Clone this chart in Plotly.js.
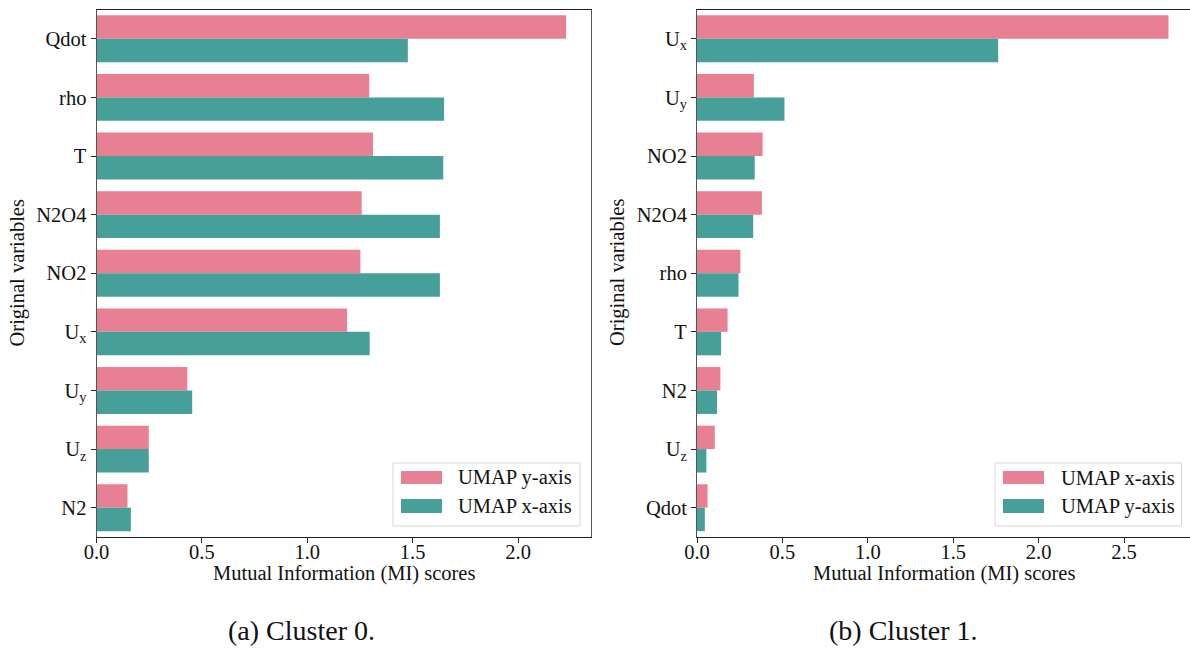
<!DOCTYPE html>
<html>
<head>
<meta charset="utf-8">
<script src="https://cdn.plot.ly/plotly-3.0.1.min.js"></script>
<style>html,body{margin:0;padding:0;background:#fff;}</style>
</head>
<body>
<div id="chart" style="width:1190px;height:648px;"></div>
<script>
// Mutual information between each original variable and the UMAP axes, per cluster
const cluster0Vars = ['Qdot', 'rho', 'T', 'N2O4', 'NO2', 'U<sub>x</sub>', 'U<sub>y</sub>', 'U<sub>z</sub>', 'N2'];
const cluster0UmapY = [2.228, 1.294, 1.312, 1.258, 1.252, 1.189, 0.431, 0.248, 0.147];
const cluster0UmapX = [1.477, 1.649, 1.645, 1.629, 1.629, 1.296, 0.454, 0.248, 0.163];

const cluster1Vars = ['U<sub>x</sub>', 'U<sub>y</sub>', 'NO2', 'N2O4', 'rho', 'T', 'N2', 'U<sub>z</sub>', 'Qdot'];
const cluster1UmapX = [2.760, 0.333, 0.384, 0.380, 0.254, 0.179, 0.137, 0.104, 0.062];
const cluster1UmapY = [1.763, 0.512, 0.338, 0.329, 0.243, 0.141, 0.117, 0.055, 0.046];

const legend0Names = ['UMAP y-axis', 'UMAP x-axis'];
const legend1Names = ['UMAP x-axis', 'UMAP y-axis'];
const captions = ['(a) Cluster 0.', '(b) Cluster 1.'];
const xTitle = 'Mutual Information (MI) scores';
const yTitle = 'Original variables';
const xTickVals0 = [0, 0.5, 1, 1.5, 2];
const xTickVals1 = [0, 0.5, 1, 1.5, 2, 2.5];

const PINK = 'rgb(231,128,146)';
const TEAL = 'rgb(70,159,153)';
const W = 1190, H = 648;
const FONT = 'Liberation Serif';
const FS = 20.5;
const INK = '#222';

// pixel -> paper helpers for layout placement
const px = v => v / W;
const py = v => 1 - v / H;

function bar(x, y, color, xa, ya) {
  return {
    type: 'bar', orientation: 'h', x: x, y: y,
    xaxis: xa, yaxis: ya,
    marker: {color: color, line: {width: 0}},
    showlegend: false, hoverinfo: 'x+y'
  };
}

const data = [
  bar(cluster0UmapY, cluster0Vars, PINK, 'x', 'y'),
  bar(cluster0UmapX, cluster0Vars, TEAL, 'x', 'y'),
  bar(cluster1UmapX, cluster1Vars, PINK, 'x2', 'y2'),
  bar(cluster1UmapY, cluster1Vars, TEAL, 'x2', 'y2')
];

const yDomain = [py(537), py(9.5)];
const textFont = {family: FONT, size: FS, color: '#111'};

function xAxis(domain, range, ticks, anchor) {
  return {
    domain: domain, range: range, anchor: anchor,
    tickmode: 'array', tickvals: ticks, ticktext: ticks.map(v => v.toFixed(1)),
    ticks: 'outside', ticklen: 5, tickwidth: 1, tickcolor: INK,
    ticklabelstandoff: -9,
    showline: true, linecolor: INK, linewidth: 1, mirror: true,
    showgrid: false, zeroline: false,
    tickfont: textFont
  };
}
function yAxis(anchor, mirror) {
  return {
    domain: yDomain, anchor: anchor, type: 'category', autorange: 'reversed',
    ticks: 'outside', ticklen: 5, tickwidth: 1, tickcolor: INK,
    showline: true, linecolor: '#555', linewidth: 1, mirror: mirror,
    showgrid: false, zeroline: false,
    tickfont: textFont
  };
}

// Axis titles placed as paper-anchored text
function titles(xCenter, yTitleX) {
  return [
    {xref: 'paper', yref: 'paper', x: px(xCenter), y: py(573), text: xTitle,
     xanchor: 'center', yanchor: 'middle', showarrow: false, font: textFont},
    {xref: 'paper', yref: 'paper', x: px(yTitleX), y: py(273), text: yTitle, textangle: -90,
     xanchor: 'center', yanchor: 'middle', showarrow: false, font: textFont}
  ];
}

// Legend boxes drawn as shapes + text
function legendBox(x0, x1, y0, y1, swX0, swX1, textX, names) {
  const shapes = [
    {type: 'rect', xref: 'paper', yref: 'paper', x0: px(x0), x1: px(x1), y0: py(y1), y1: py(y0),
     line: {color: '#d6d6d6', width: 1}, fillcolor: 'rgba(255,255,255,0.85)', layer: 'above'},
    {type: 'rect', xref: 'paper', yref: 'paper', x0: px(swX0), x1: px(swX1), y0: py(484), y1: py(471),
     line: {width: 0}, fillcolor: PINK, layer: 'above'},
    {type: 'rect', xref: 'paper', yref: 'paper', x0: px(swX0), x1: px(swX1), y0: py(513), y1: py(499),
     line: {width: 0}, fillcolor: TEAL, layer: 'above'}
  ];
  const ann = names.map((n, i) => ({
    xref: 'paper', yref: 'paper', x: px(textX), y: py(i === 0 ? 477.5 : 506),
    xanchor: 'left', yanchor: 'middle', showarrow: false, text: n, font: textFont
  }));
  return {shapes, ann};
}

const lg0 = legendBox(393, 580, 463, 526, 401, 442, 456, legend0Names);
const lg1 = legendBox(995, 1181.5, 463, 526, 1003, 1044, 1059, legend1Names);

const captionAnn = [
  {xref: 'paper', yref: 'paper', x: px(301), y: py(630), text: captions[0]},
  {xref: 'paper', yref: 'paper', x: px(903), y: py(630), text: captions[1]}
].map(a => Object.assign(a, {showarrow: false, xanchor: 'center', yanchor: 'middle',
  font: {family: FONT, size: 28, color: '#111'}}));

const layout = {
  width: W, height: H,
  margin: {l: 0, r: 0, t: 0, b: 0},
  paper_bgcolor: '#fff', plot_bgcolor: '#fff',
  barmode: 'group', bargap: 0.2, bargroupgap: 0,
  showlegend: false,
  font: textFont,
  xaxis: xAxis([px(96.5), px(591)], [0, 2.346], xTickVals0, 'y'),
  yaxis: yAxis('x', true),
  xaxis2: xAxis([px(697), 1], [0, 2.886], xTickVals1, 'y2'),
  yaxis2: yAxis('x2', false),
  shapes: lg0.shapes.concat(lg1.shapes),
  annotations: titles(343.75, 16.5).concat(titles(943.5, 617), lg0.ann, lg1.ann, captionAnn)
};

Plotly.newPlot('chart', data, layout, {displayModeBar: false, staticPlot: true});
</script>
</body>
</html>
